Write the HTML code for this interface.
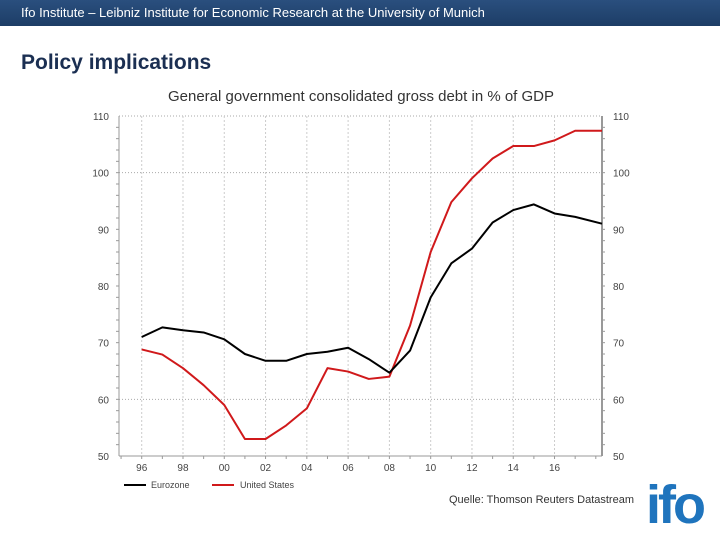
<!DOCTYPE html>
<html><head><meta charset="utf-8"><style>
body{margin:0;width:720px;height:540px;background:#fff;position:relative;overflow:hidden;font-family:"Liberation Sans",sans-serif}
#hdr{position:absolute;left:0;top:0;width:720px;height:26px;background:linear-gradient(#2a4f7e,#1d3d66);color:#fff;font-size:13px;line-height:25px;padding-left:21px;box-sizing:border-box}
#ttl{position:absolute;left:21px;top:51px;font-size:21px;font-weight:bold;color:#1b2f52}
#logo{position:absolute;left:646px;top:478px;font-size:54px;font-weight:bold;color:#1f74bd;letter-spacing:-3px;line-height:54px}
</style></head><body>
<div id="hdr">Ifo Institute – Leibniz Institute for Economic Research at the University of Munich</div>
<div id="ttl">Policy implications</div>
<div id="logo">ifo</div>
<svg id="chart" width="720" height="540" style="position:absolute;left:0;top:0"></svg>
<script>
const years=[1996,1997,1998,1999,2000,2001,2002,2003,2004,2005,2006,2007,2008,2009,2010,2011,2012,2013,2014,2015,2016,2017,2018.3];
const eurozone=[71,72.7,72.2,71.8,70.6,68,66.8,66.8,68,68.4,69.1,67.1,64.7,68.6,78,84,86.6,91.2,93.4,94.4,92.8,92.2,91];
const unitedStates=[68.8,67.9,65.5,62.5,59,53,53,55.4,58.4,65.5,64.9,63.6,64,73,86,94.8,99,102.5,104.7,104.7,105.7,107.4,107.4];
const yTicks=[50,60,70,80,90,100,110];
const yGrid=[60,100,110];
const xTickYears=[1996,1998,2000,2002,2004,2006,2008,2010,2012,2014,2016];
const xTickLabels=["96","98","00","02","04","06","08","10","12","14","16"];
const L=119,R=602,T=116,B=456,x0=1994.9,x1=2018.3,y0=50,y1=110;
const X=v=>L+(v-x0)/(x1-x0)*(R-L), Y=v=>B-(v-y0)/(y1-y0)*(B-T);
const s=document.getElementById('chart'),NS='http://www.w3.org/2000/svg';
function mk(t,a,txt){const e=document.createElementNS(NS,t);for(const k in a)e.setAttribute(k,a[k]);if(txt!=null)e.textContent=txt;s.appendChild(e);return e;}
let e=mk('text',{x:361,y:101,'text-anchor':'middle','font-size':15,fill:'#333'},'General government consolidated gross debt in % of GDP');


yGrid.forEach(v=>{
 e=mk('line',{x1:L,x2:R,y1:Y(v),y2:Y(v),stroke:'#aaa','stroke-dasharray':'1,2'});
 
 
});
yTicks.forEach(v=>{
 e=mk('text',{x:L-10,y:Y(v)+4,'text-anchor':'end','font-size':10,fill:'#444'},v);
 
 
 e=mk('text',{x:R+11,y:Y(v)+4,'font-size':10,fill:'#444'},v);
 
 
});
for(let v=52;v<110;v+=2){mk('line',{x1:L-3,x2:L,y1:Y(v),y2:Y(v),stroke:'#999'});mk('line',{x1:R,x2:R+3,y1:Y(v),y2:Y(v),stroke:'#999'});}
xTickYears.forEach((v,i)=>{
 e=mk('line',{x1:X(v),x2:X(v),y1:T,y2:B,stroke:'#ccc','stroke-dasharray':'2,2'});
 
 
 e=mk('text',{x:X(v),y:B+15,'text-anchor':'middle','font-size':10,fill:'#444'},xTickLabels[i]);
 
 
});
for(let v=1995;v<=2018;v++)mk('line',{x1:X(v),x2:X(v),y1:B,y2:B+3,stroke:'#999'});
e=mk('line',{x1:L,x2:L,y1:T,y2:B,stroke:'#999'});
e=mk('line',{x1:R,x2:R,y1:T,y2:B,stroke:'#999','stroke-width':2});
e=mk('line',{x1:L,x2:R,y1:B,y2:B,stroke:'#999'});
function line(d,c,n){e=mk('polyline',{points:d.map((v,i)=>X(years[i])+','+Y(v)).join(' '),fill:'none',stroke:c,'stroke-width':2,'stroke-linejoin':'round'});
 
 }
line(unitedStates,'#d0191b','united-states-line');
line(eurozone,'#000','eurozone-line');
e=mk('line',{x1:124,x2:146,y1:485,y2:485,stroke:'#000','stroke-width':2});
e=mk('text',{x:151,y:488,'font-size':9,fill:'#444'},'Eurozone');
e=mk('line',{x1:212,x2:234,y1:485,y2:485,stroke:'#d0191b','stroke-width':2});
e=mk('text',{x:240,y:488,'font-size':9,fill:'#444'},'United States');
e=mk('text',{x:634,y:503,'text-anchor':'end','font-size':11,fill:'#333'},'Quelle: Thomson Reuters Datastream');
</script>
</body></html>
